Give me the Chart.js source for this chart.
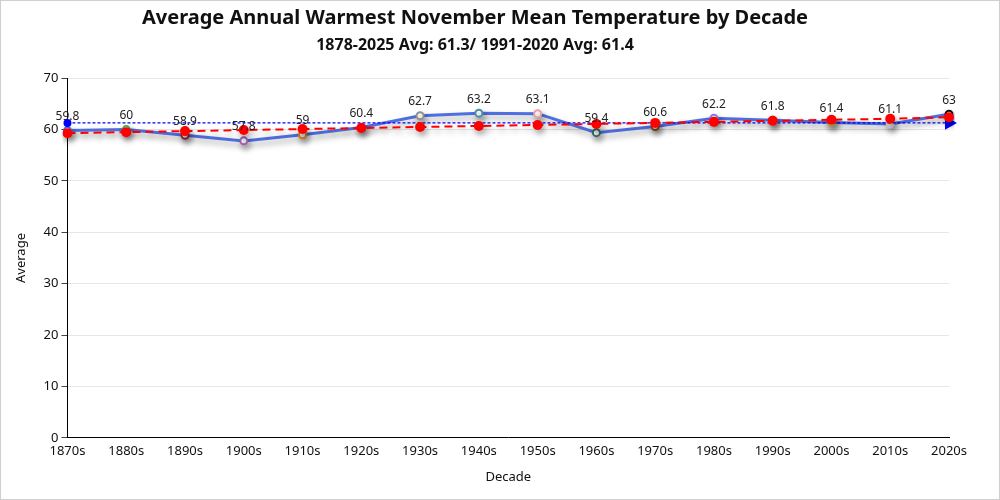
<!DOCTYPE html>
<html><head><meta charset="utf-8">
<script src="https://cdn.jsdelivr.net/npm/chart.js@4"></script>
<style>
html,body{margin:0;padding:0;background:#fff;}
#wrap{width:998px;height:498px;border:1px solid #cfcfcf;position:relative;}
canvas{display:block;}
</style></head><body>
<div id="wrap"><canvas id="c" width="998" height="498"></canvas></div>
<script>
const decades = ['1870s','1880s','1890s','1900s','1910s','1920s','1930s','1940s','1950s','1960s','1970s','1980s','1990s','2000s','2010s','2020s'];
const averages = [59.8,60,58.9,57.8,59,60.4,62.7,63.2,63.1,59.4,60.6,62.2,61.8,61.4,61.1,63];
const trendValues = [59.3,59.5,59.7,59.9,60.1,60.3,60.5,60.7,60.9,61.1,61.3,61.5,61.7,61.9,62.1,62.4];
const longTermAvg = [61.3,61.3,61.3,61.3,61.3,61.3,61.3,61.3,61.3,61.3,61.3,61.3,61.3,61.3,61.3,61.3];
const pointColors = ['#3b6fd8','#3cb44b','#a0203c','#a05fb5','#d9851a','#e6194b','#909090','#4a8fa8','#e8a0a8','#2f6f66','#8b4513','#8a7be0','#4363d8','#d4c040','#d8d8d8','#111111'];
const yTicks = [0,10,20,30,40,50,60,70];

const FONT = '"Noto Sans", "Open Sans", sans-serif';

const shadowPlugin = {
  id:'shadow',
  beforeDatasetDraw(chart, args){
    const ctx = chart.ctx; ctx.save();
    if (args.index !== 1) {
      ctx.shadowColor='rgba(0,0,0,0.35)'; ctx.shadowBlur=6; ctx.shadowOffsetX=2; ctx.shadowOffsetY=4;
    }
  },
  afterDatasetDraw(chart){
    chart.ctx.restore();
  },
  afterDatasetsDraw(chart){
    const ctx = chart.ctx;
    const meta = chart.getDatasetMeta(0);
    ctx.save();
    ctx.font = '12px ' + FONT;
    ctx.fillStyle = '#222';
    ctx.textAlign = 'center';
    ctx.textBaseline = 'bottom';
    meta.data.forEach((p,i)=>{
      ctx.fillText(String(averages[i]), p.x, p.y - 8);
    });
    ctx.restore();
  }
};

const last = decades.length - 1;
new Chart(document.getElementById('c'), {
  type:'line',
  data:{
    labels: decades,
    datasets:[
      {
        label:'Average',
        data: averages,
        borderColor:'#4f6fdf',
        borderWidth:3,
        pointRadius:3.5,
        pointBorderWidth:2,
        pointBackgroundColor:'#ffffff',
        pointBorderColor: pointColors,
        tension:0,
        order:3
      },
      {
        label:'1878-2025 Avg',
        data: longTermAvg,
        borderColor:'#0000ff',
        backgroundColor:'#0000ff',
        borderWidth:1.2,
        borderDash:[3,2],
        pointRadius: c => c.dataIndex===0 ? 4 : (c.dataIndex===last ? 8 : 0),
        pointStyle: c => c.dataIndex===last ? 'triangle' : 'circle',
        rotation: c => c.dataIndex===last ? 90 : 0,
        pointBorderWidth:0,
        pointBackgroundColor:'#0000ff',
        order:2
      },
      {
        label:'Trend',
        data: trendValues,
        borderColor:'#ff0000',
        borderWidth:2,
        borderDash:[8,5],
        pointRadius:5,
        pointBorderWidth:0,
        pointBackgroundColor:'#ff0000',
        order:1
      }
    ]
  },
  options:{
    responsive:false,
    animation:false,
    layout:{padding:{left:0,right:50,top:0,bottom:10}},
    plugins:{
      legend:{display:false},
      tooltip:{enabled:false},
      title:{display:true,text:'Average Annual Warmest November Mean Temperature by Decade',
        font:{family:FONT,size:20,weight:'bold'},color:'#111',padding:{top:5,bottom:6}},
      subtitle:{display:true,text:'1878-2025 Avg: 61.3/ 1991-2020 Avg: 61.4',
        font:{family:FONT,size:16,weight:'bold'},color:'#111',padding:{bottom:23}}
    },
    scales:{
      x:{
        grid:{display:false,drawTicks:false},
        border:{display:true,color:'#000'},
        ticks:{color:'#111',font:{family:FONT,size:13},maxRotation:0,autoSkip:false,padding:6},
        title:{display:true,text:'Decade',color:'#111',font:{family:FONT,size:13},padding:{top:4}}
      },
      y:{
        min:0,max:70,
        afterBuildTicks(axis){ axis.ticks = yTicks.map(v=>({value:v})); },
        grid:{color:'#e6e6e6',tickColor:'#444',tickLength:6},
        border:{display:true,color:'#000'},
        ticks:{color:'#111',font:{family:FONT,size:13},padding:3},
        title:{display:true,text:'Average',color:'#111',font:{family:FONT,size:13},padding:12}
      }
    }
  },
  plugins:[shadowPlugin]
});
</script>
</body></html>
